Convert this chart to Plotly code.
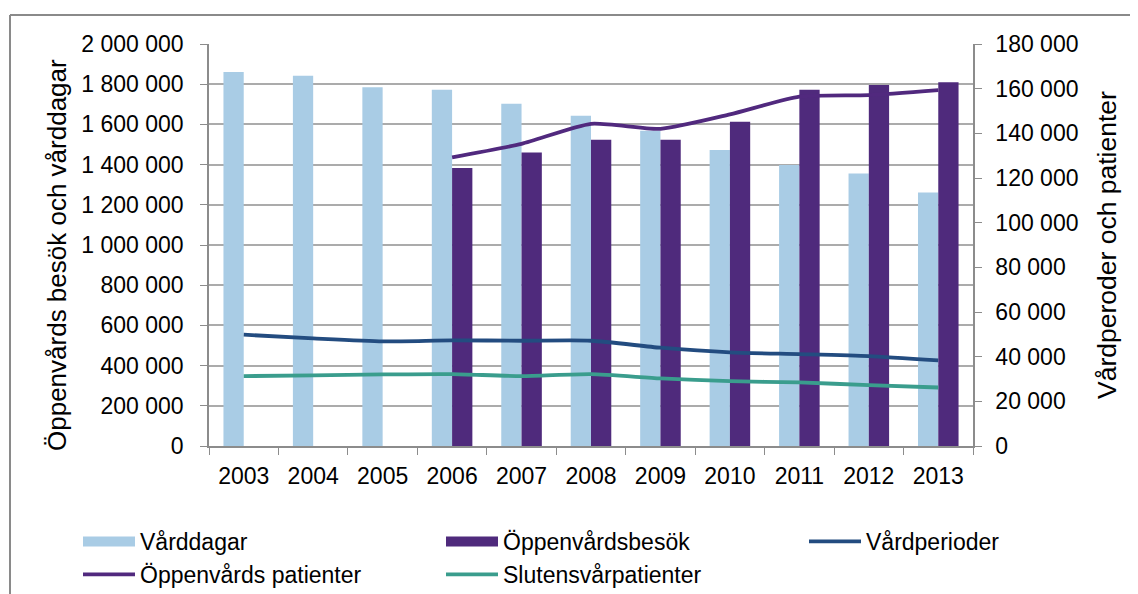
import plotly.graph_objects as go

years = ["2003", "2004", "2005", "2006", "2007", "2008", "2009", "2010", "2011", "2012", "2013"]
varddagar = [1860600, 1842000, 1784400, 1772500, 1702800, 1643000, 1568400, 1472300, 1397600, 1356200, 1261600]
oppenvardsbesok = [None, None, None, 1382600, 1460800, 1523500, 1523500, 1613200, 1772500, 1796000, 1809300]
vardperioder = [49830, 48200, 46860, 47300, 47130, 47130, 44000, 41900, 41150, 40270, 38330]
oppenvards_patienter = [None, None, None, 129280, 135300, 144270, 142030, 148450, 156390, 157110, 159350]
slutensvardpatienter = [31290, 31600, 32050, 32190, 31290, 32190, 30250, 29040, 28460, 27250, 26200]

left_ticks = list(range(0, 2000001, 200000))
right_ticks = list(range(0, 180001, 20000))


def fmt(v):
    return f"{v:,}".replace(",", "\u00a0")


C_LIGHT = "#A9CCE5"
C_PURPLE = "#4F2A7C"
C_VP = "#234C80"
C_OP = "#51297E"
C_SV = "#3A9D8D"
GRID = "#ABABAB"
AXIS = "#8C8C8C"
FONT = "Liberation Sans, Arial, sans-serif"

OFF = 8  # default page margin of the html body
W, H = 1138 - OFF, 594 - OFF
# target plot area in page pixels: left 209, right 973, top 44, bottom 446
L = 209 - OFF
T = 44 - OFF
R = W - (973 - OFF)
B = H - (446 - OFF)

fig = go.Figure()

fig.add_trace(go.Bar(x=years, y=varddagar, name="Vårddagar", marker=dict(color=C_LIGHT, line=dict(width=0)),
                     yaxis="y", legendgroup="a", showlegend=False))
fig.add_trace(go.Bar(x=years, y=oppenvardsbesok, name="Öppenvårdsbesök", marker=dict(color=C_PURPLE, line=dict(width=0)),
                     yaxis="y", legendgroup="b", showlegend=False))

spl = dict(shape="spline", smoothing=0.6)
fig.add_trace(go.Scatter(x=years, y=vardperioder, name="Vårdperioder", mode="lines",
                         line=dict(color=C_VP, width=3.8, **spl), yaxis="y2", legend="legend3"))
fig.add_trace(go.Scatter(x=years, y=oppenvards_patienter, name="Öppenvårds patienter", mode="lines",
                         line=dict(color=C_OP, width=3.8, **spl), yaxis="y2", legend="legend", legendrank=2))
fig.add_trace(go.Scatter(x=years, y=slutensvardpatienter, name="Slutensvårpatienter", mode="lines",
                         line=dict(color=C_SV, width=3.8, **spl), yaxis="y2", legend="legend2", legendrank=2))

# legend-only entries for the bar series (wide rectangle symbols)
fig.add_trace(go.Scatter(x=[None], y=[None], name="Vårddagar", mode="lines",
                         line=dict(color=C_LIGHT, width=13), legendgroup="a", legend="legend",
                         legendrank=1, yaxis="y2"))
fig.add_trace(go.Scatter(x=[None], y=[None], name="Öppenvårdsbesök", mode="lines",
                         line=dict(color=C_PURPLE, width=13), legendgroup="b", legend="legend2",
                         legendrank=1, yaxis="y2"))

pw = W - L - R
ph = H - T - B


def px_x(p):
    # p in page pixels
    return (p - OFF - L) / pw


def px_y(p):
    return 1 - (p - OFF - T) / ph


fig.add_shape(type="line", xref="paper", yref="paper", x0=px_x(10), x1=px_x(1150), y0=px_y(15), y1=px_y(15),
              line=dict(color="#8A8A8A", width=2))
fig.add_shape(type="line", xref="paper", yref="paper", x0=px_x(10), x1=px_x(10), y0=px_y(15), y1=px_y(600),
              line=dict(color="#8A8A8A", width=2))

fig.add_annotation(text="Öppenvårds besök och vårddagar", xref="paper", yref="paper",
                   x=px_x(57), y=px_y(255), textangle=-90, showarrow=False, xanchor="center", yanchor="middle",
                   font=dict(family=FONT, size=26, color="#000"))
fig.add_annotation(text="Vårdperoder och patienter", xref="paper", yref="paper",
                   x=px_x(1107), y=px_y(245), textangle=-90, showarrow=False, xanchor="center", yanchor="middle",
                   font=dict(family=FONT, size=26.5, color="#000"))

leg_common = dict(orientation="v", xref="container", yref="container", yanchor="top", xanchor="left",
                  itemwidth=52, font=dict(size=23, family=FONT, color="#000"), bgcolor="rgba(0,0,0,0)",
                  traceorder="normal", tracegroupgap=0, borderwidth=0)
LEG_TOP = 512

fig.update_layout(
    width=W, height=H,
    margin=dict(l=L, r=R, t=T, b=B, autoexpand=False),
    paper_bgcolor="white", plot_bgcolor="white",
    barmode="group", bargap=0.416, bargroupgap=0,
    font=dict(family=FONT, size=23, color="#000"),
    xaxis=dict(type="category", showgrid=False, showline=True, linecolor=AXIS, linewidth=1.5,
               ticks="outside", ticklen=7, tickcolor=AXIS, tickson="boundaries",
               tickfont=dict(size=23), ticklabelstandoff=9, automargin=False),
    yaxis=dict(range=[0, 2000000], tickvals=left_ticks, ticktext=[fmt(v) for v in left_ticks],
               showgrid=True, gridcolor=GRID, gridwidth=1.5, showline=True, linecolor=AXIS, linewidth=1.5,
               ticks="outside", ticklen=7, tickcolor=AXIS, tickfont=dict(size=23), zeroline=False,
               ticklabelstandoff=12, automargin=False),
    yaxis2=dict(range=[0, 180000], tickvals=right_ticks, ticktext=[fmt(v) for v in right_ticks],
                overlaying="y", side="right", showgrid=False, showline=True, linecolor=AXIS, linewidth=1.5,
                ticks="outside", ticklen=7, tickcolor=AXIS, tickfont=dict(size=23), zeroline=False,
                ticklabelstandoff=9, automargin=False),
    legend=dict(x=70 / W, y=1 - LEG_TOP / H, **leg_common),
    legend2=dict(x=433 / W, y=1 - LEG_TOP / H, **leg_common),
    legend3=dict(x=796 / W, y=1 - LEG_TOP / H, **leg_common),
    showlegend=True,
)

fig.write_html("out.html")
